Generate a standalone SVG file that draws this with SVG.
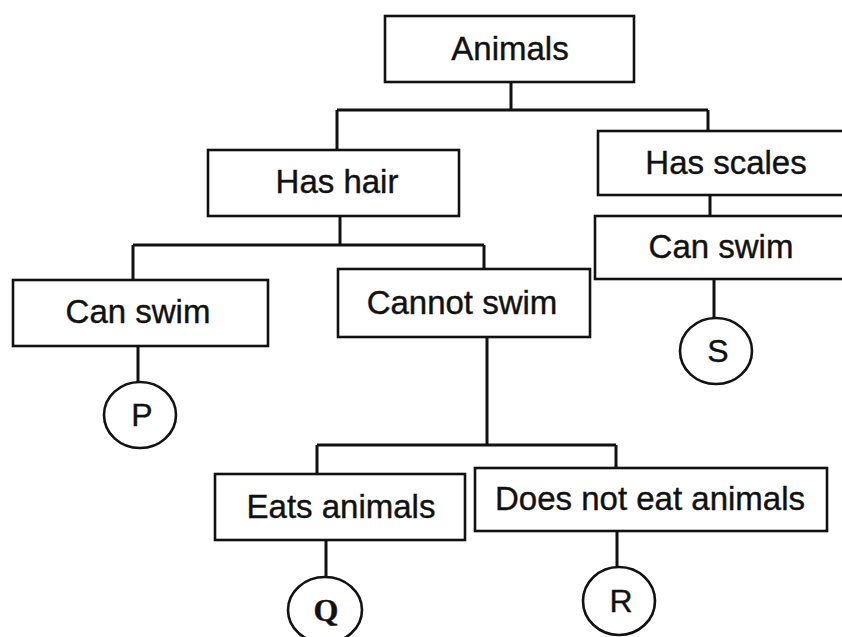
<svg xmlns="http://www.w3.org/2000/svg" width="842" height="637" viewBox="0 0 842 637">
<style>
.box{fill:#fff;stroke:#111;stroke-width:2.6}
.leaf{fill:#fff;stroke:#111;stroke-width:2.6}
.lbl{font-family:"Liberation Sans",Arial,sans-serif;font-size:33px;fill:#111;stroke:#111;stroke-width:0.4;text-anchor:middle}
.ltr{font-family:"Liberation Sans",Arial,sans-serif;font-size:32px;fill:#111;stroke:#111;stroke-width:0.4;text-anchor:middle}
#connectors line{stroke:#111;stroke-width:3;fill:none}
</style>
<rect width="842" height="637" fill="#fff"/>
<g id="connectors">
<line x1="511" y1="82" x2="511" y2="110"/>
<line x1="337" y1="110" x2="708" y2="110"/>
<line x1="337" y1="110" x2="337" y2="150"/>
<line x1="708" y1="110" x2="708" y2="131"/>
<line x1="710" y1="195" x2="710" y2="216"/>
<line x1="714" y1="279" x2="714" y2="318"/>
<line x1="340" y1="216" x2="340" y2="245"/>
<line x1="133" y1="245" x2="484" y2="245"/>
<line x1="133" y1="245" x2="133" y2="280"/>
<line x1="484" y1="245" x2="484" y2="269"/>
<line x1="138" y1="346" x2="138" y2="382"/>
<line x1="487" y1="337" x2="487" y2="445"/>
<line x1="317" y1="445" x2="616" y2="445"/>
<line x1="317" y1="445" x2="317" y2="474"/>
<line x1="616" y1="445" x2="616" y2="468"/>
<line x1="326" y1="540" x2="326" y2="577"/>
<line x1="617" y1="531" x2="617" y2="567"/>
</g>
<g id="animals"><rect class="box" x="385" y="16" width="249" height="66"/><text class="lbl" x="510" y="60">Animals</text></g>
<g id="has-hair"><rect class="box" x="208" y="150" width="251" height="66"/><text class="lbl" x="337" y="193">Has hair</text></g>
<g id="has-scales"><rect class="box" x="598" y="131" width="260" height="64"/><text class="lbl" x="726" y="174">Has scales</text></g>
<g id="can-swim-scales"><rect class="box" x="595" y="216" width="260" height="63"/><text class="lbl" x="721" y="258">Can swim</text></g>
<g id="can-swim-hair"><rect class="box" x="13" y="280" width="255" height="66"/><text class="lbl" x="138" y="323">Can swim</text></g>
<g id="cannot-swim"><rect class="box" x="338" y="269" width="252" height="68"/><text class="lbl" x="462" y="314">Cannot swim</text></g>
<g id="eats-animals"><rect class="box" x="215" y="474" width="250" height="66"/><text class="lbl" x="341" y="518">Eats animals</text></g>
<g id="does-not-eat"><rect class="box" x="475" y="468" width="352" height="63"/><text class="lbl" x="650" y="510">Does not eat animals</text></g>
<g id="P"><ellipse class="leaf" cx="140" cy="415" rx="36" ry="33"/><text class="ltr" x="142" y="426">P</text></g>
<g id="S"><ellipse class="leaf" cx="716" cy="351" rx="36" ry="33"/><text class="ltr" x="718" y="362">S</text></g>
<g id="Q"><ellipse class="leaf" cx="325" cy="610" rx="37" ry="33"/><text class="ltr" x="326" y="621" style="font-family:'Liberation Serif',serif;font-weight:bold">Q</text></g>
<g id="R"><ellipse class="leaf" cx="619" cy="601" rx="36" ry="34"/><text class="ltr" x="621" y="612">R</text></g>
</svg>
